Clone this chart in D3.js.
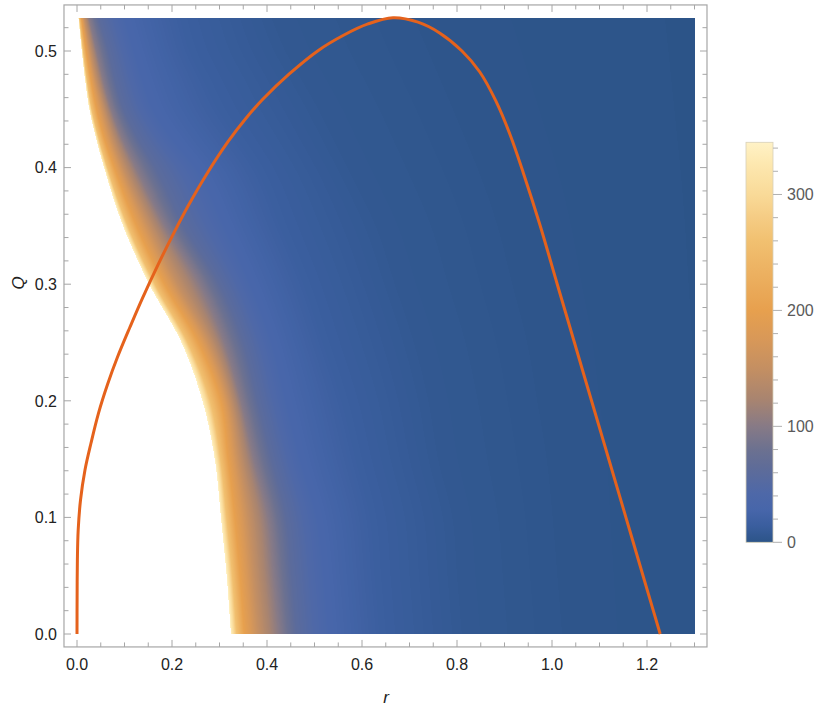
<!DOCTYPE html>
<html><head><meta charset="utf-8">
<script src="https://cdn.jsdelivr.net/npm/d3@7"></script>
<style>html,body{margin:0;padding:0;background:#fff;}svg{display:block;font-family:"Liberation Sans",Arial,sans-serif;}</style>
</head><body>
<svg id="chart" width="830" height="710"></svg>
<script>
// ---------- data ----------
const xTicksMajor = [0, 0.2, 0.4, 0.6, 0.8, 1.0, 1.2];
const yTicksMajor = [0, 0.1, 0.2, 0.3, 0.4, 0.5];
const cbTicksMajor = [0, 100, 200, 300];
const xDomain = [0, 1.3];
const yDomain = [0, 0.5285];
const xFrame = [-0.0274, 1.3263];
const yFrame = [-0.0111, 0.5395];
const cbDomain = [0, 345];

// orange curve (r, Q)
const curveR = [0, 0.0002, 0.0008, 0.0025, 0.0074, 0.0168, 0.0295, 0.0453, 0.0642, 0.0853, 0.1116, 0.1379, 0.1705, 0.2053, 0.2347, 0.2716, 0.3179, 0.3558, 0.3916, 0.4463, 0.5074, 0.5621, 0.6126, 0.6653, 0.7179, 0.7642, 0.8105, 0.848, 0.882, 0.912, 0.940, 0.9747, 1.0109, 1.0469, 1.0834, 1.1194, 1.1554, 1.1912, 1.2278];
const curveQ = [0, 0.0292, 0.0635, 0.0892, 0.1149, 0.1407, 0.1638, 0.1895, 0.2140, 0.2375, 0.2633, 0.2881, 0.3166, 0.3451, 0.3677, 0.3935, 0.4222, 0.4423, 0.4588, 0.4801, 0.5003, 0.5137, 0.5232, 0.5285, 0.5247, 0.5153, 0.5000, 0.482, 0.457, 0.428, 0.395, 0.3508, 0.3002, 0.2504, 0.1998, 0.1501, 0.1003, 0.0506, 0];

// density field: r-position of value contours for each Q row
const rowQ   = [0, 0.05, 0.1, 0.15, 0.2, 0.25, 0.3, 0.35, 0.4, 0.425, 0.45, 0.475, 0.5, 0.5285];
const levelValues = [345, 260, 200, 150, 100, 60, 30, 15, 6, 2, 0];
const r345 = [0.324, 0.315, 0.303, 0.290, 0.264, 0.220, 0.152, 0.097, 0.057, 0.040, 0.026, 0.017, 0.010, 0.003];
const r260 = [0.336, 0.327, 0.315, 0.302, 0.280, 0.233, 0.164, 0.107, 0.064, 0.046, 0.031, 0.021, 0.013, 0.005];
const r200 = [0.352, 0.343, 0.332, 0.318, 0.302, 0.255, 0.184, 0.125, 0.078, 0.057, 0.041, 0.029, 0.019, 0.009];
const r150 = [0.382, 0.372, 0.362, 0.342, 0.322, 0.280, 0.212, 0.152, 0.097, 0.074, 0.056, 0.040, 0.028, 0.015];
const r100 = [0.425, 0.414, 0.402, 0.372, 0.345, 0.310, 0.258, 0.185, 0.124, 0.095, 0.072, 0.055, 0.041, 0.025];
const r60  = [0.462, 0.452, 0.440, 0.410, 0.380, 0.350, 0.300, 0.225, 0.165, 0.128, 0.098, 0.080, 0.066, 0.045];
const r30  = [0.530, 0.520, 0.505, 0.470, 0.440, 0.410, 0.365, 0.310, 0.250, 0.200, 0.160, 0.138, 0.120, 0.100];
const r15  = [0.640, 0.630, 0.620, 0.590, 0.560, 0.520, 0.480, 0.430, 0.380, 0.340, 0.300, 0.270, 0.240, 0.220];
const r6   = [0.820, 0.810, 0.800, 0.770, 0.750, 0.720, 0.680, 0.640, 0.580, 0.550, 0.520, 0.485, 0.450, 0.420];
const r2   = [1.050, 1.040, 1.030, 1.020, 1.000, 0.980, 0.950, 0.920, 0.880, 0.855, 0.830, 0.805, 0.780, 0.750];
const r0   = [1.400, 1.400, 1.400, 1.400, 1.400, 1.400, 1.400, 1.400, 1.400, 1.400, 1.400, 1.400, 1.400, 1.400];

// colour map
const cmapValues = [0, 14, 28, 42, 65, 80, 100, 123, 150, 175, 200, 231, 260, 280, 300, 327, 345];
const cmapColors = ["#2c5488","#3a5e9e","#4766aa","#4e68a8","#5f6c98","#6c7190","#877a86","#a88470","#c48f62","#d89858","#e7a04e","#ecb060","#f1c070","#f5cc84","#f9da98","#fde8b0","#fff2c6"];

// ---------- scales ----------
const x = d3.scaleLinear().domain([0, 1]).range([77, 552]);
const y = d3.scaleLinear().domain([0, 0.5]).range([634, 51]);
const cb = d3.scaleLinear().domain(cbDomain).range([542.3, 142.3]);
const color = d3.scaleLinear().domain(cmapValues).range(cmapColors).interpolate(d3.interpolateRgb).clamp(true);

const svg = d3.select("#chart");

// smooth (monotone cubic) interpolation of contour positions between rows
function monotoneInterp(xs, ys) {
  const n = xs.length, h = [], s = [], m = new Array(n);
  for (let i = 0; i < n - 1; i++) { h.push(xs[i + 1] - xs[i]); s.push((ys[i + 1] - ys[i]) / h[i]); }
  m[0] = s[0]; m[n - 1] = s[n - 2];
  for (let i = 1; i < n - 1; i++) {
    const s0 = s[i - 1], s1 = s[i], p = (s0 * h[i] + s1 * h[i - 1]) / (h[i - 1] + h[i]);
    m[i] = (Math.sign(s0) + Math.sign(s1)) * Math.min(Math.abs(s0), Math.abs(s1), 0.5 * Math.abs(p)) || 0;
  }
  return q => {
    let k = d3.bisectRight(xs, q) - 1;
    k = Math.max(0, Math.min(n - 2, k));
    const t = (q - xs[k]) / h[k], t2 = t * t, t3 = t2 * t;
    return (2 * t3 - 3 * t2 + 1) * ys[k] + (t3 - 2 * t2 + t) * h[k] * m[k] + (-2 * t3 + 3 * t2) * ys[k + 1] + (t3 - t2) * h[k] * m[k + 1];
  };
}

// ---------- heatmap raster ----------
const levels = [r345, r260, r200, r150, r100, r60, r30, r15, r6, r2, r0].map(a => monotoneInterp(rowQ, a));
const px0 = Math.round(x(xDomain[0])), px1 = Math.round(x(xDomain[1]));
const py0 = Math.round(y(yDomain[1])), py1 = Math.round(y(yDomain[0]));
const cw = px1 - px0, ch = py1 - py0;
const canvas = document.createElement("canvas");
canvas.width = cw; canvas.height = ch;
const ctx = canvas.getContext("2d");
const img = ctx.createImageData(cw, ch);
const lut = [];
for (let v = 0; v <= 345; v++) lut.push(d3.rgb(color(v)));
for (let j = 0; j < ch; j++) {
  const Q = Math.min(yDomain[1], y.invert(py0 + j + 0.5));
  const pos = levels.map(f => f(Q));
  for (let i = 0; i < cw; i++) {
    const r = x.invert(px0 + i + 0.5);
    const idx = (j * cw + i) * 4;
    if (r < pos[0]) { img.data[idx + 3] = 0; continue; }
    let s = 0;
    while (s < pos.length - 2 && r > pos[s + 1]) s++;
    const u = Math.max(0, Math.min(1, (r - pos[s]) / (pos[s + 1] - pos[s])));
    const v = levelValues[s] + (levelValues[s + 1] - levelValues[s]) * u;
    const c = lut[Math.max(0, Math.min(345, Math.round(v)))];
    img.data[idx] = c.r; img.data[idx + 1] = c.g; img.data[idx + 2] = c.b; img.data[idx + 3] = 255;
  }
}
ctx.putImageData(img, 0, 0);
svg.append("image").attr("x", px0).attr("y", py0).attr("width", cw).attr("height", ch)
  .attr("preserveAspectRatio", "none").attr("href", canvas.toDataURL());

// ---------- curve ----------
const curvePts = curveR.map((r, i) => [r, curveQ[i]]);
svg.append("path").datum(curvePts)
  .attr("d", d3.line().x(d => x(d[0])).y(d => y(d[1])).curve(d3.curveCatmullRom.alpha(0.5)))
  .attr("fill", "none").attr("stroke", "#e5621c").attr("stroke-width", 3).attr("stroke-linecap", "butt");

// ---------- frame & ticks ----------
const fx0 = x(xFrame[0]), fx1 = x(xFrame[1]), fy0 = y(yFrame[0]), fy1 = y(yFrame[1]);
const frameCol = "#a6a6a6";
svg.append("rect").attr("x", fx0).attr("y", fy1).attr("width", fx1 - fx0).attr("height", fy0 - fy1)
  .attr("fill", "none").attr("stroke", frameCol).attr("stroke-width", 1.2);

const xMinor = d3.range(0, 27).map(i => +(i * 0.05).toFixed(2));
const yMinor = d3.range(0, 27).map(i => +(i * 0.02).toFixed(2));
const isMajor = (v, arr) => arr.some(a => Math.abs(a - v) < 1e-9);
const tg = svg.append("g").attr("stroke", frameCol).attr("stroke-width", 1);
xMinor.forEach(v => {
  const L = isMajor(v, xTicksMajor) ? 7 : 4.5;
  tg.append("line").attr("x1", x(v)).attr("x2", x(v)).attr("y1", fy0).attr("y2", fy0 - L);
  tg.append("line").attr("x1", x(v)).attr("x2", x(v)).attr("y1", fy1).attr("y2", fy1 + L);
});
yMinor.forEach(v => {
  const L = isMajor(v, yTicksMajor) ? 7 : 4.5;
  tg.append("line").attr("y1", y(v)).attr("y2", y(v)).attr("x1", fx0).attr("x2", fx0 + L);
  tg.append("line").attr("y1", y(v)).attr("y2", y(v)).attr("x1", fx1).attr("x2", fx1 - L);
});
const fmt = d3.format(".1f");
svg.append("g").selectAll("text").data(xTicksMajor).join("text")
  .attr("x", d => x(d)).attr("y", 670).attr("text-anchor", "middle")
  .attr("font-size", 16).attr("fill", "#222").text(d => fmt(d));
svg.append("g").selectAll("text").data(yTicksMajor).join("text")
  .attr("x", 57).attr("y", d => y(d) + 5.8).attr("text-anchor", "end")
  .attr("font-size", 16).attr("fill", "#222").text(d => fmt(d));

// axis titles
svg.append("text").attr("x", 386).attr("y", 703).attr("text-anchor", "middle")
  .attr("font-size", 17).attr("font-style", "italic").attr("fill", "#222").text("r");
svg.append("text").attr("transform", "translate(24,283) rotate(-90)").attr("text-anchor", "middle")
  .attr("font-size", 17).attr("font-style", "italic").attr("fill", "#222").text("Q");

// ---------- colour bar ----------
const defs = svg.append("defs");
const grad = defs.append("linearGradient").attr("id", "cbgrad")
  .attr("x1", 0).attr("x2", 0).attr("y1", 1).attr("y2", 0);
cmapValues.forEach((v, i) => grad.append("stop").attr("offset", v / cbDomain[1]).attr("stop-color", cmapColors[i]));
const cbx0 = 746, cbx1 = 773;
svg.append("rect").attr("x", cbx0).attr("y", cb(cbDomain[1])).attr("width", cbx1 - cbx0)
  .attr("height", cb(cbDomain[0]) - cb(cbDomain[1])).attr("fill", "url(#cbgrad)")
  .attr("stroke", "#d8d0b8").attr("stroke-width", 0.8);
const cbMinor = d3.range(0, 18).map(i => i * 20);
const cg = svg.append("g").attr("stroke", "#b0b0b0").attr("stroke-width", 1);
cbMinor.forEach(v => {
  const L = isMajor(v, cbTicksMajor) ? 9 : 5;
  cg.append("line").attr("x1", cbx1).attr("x2", cbx1 + L).attr("y1", cb(v)).attr("y2", cb(v));
});
svg.append("g").selectAll("text").data(cbTicksMajor).join("text")
  .attr("x", 787).attr("y", d => cb(d) + 5.8).attr("font-size", 16).attr("fill", "#5a5a5a")
  .text(d => d);
</script>
</body></html>
